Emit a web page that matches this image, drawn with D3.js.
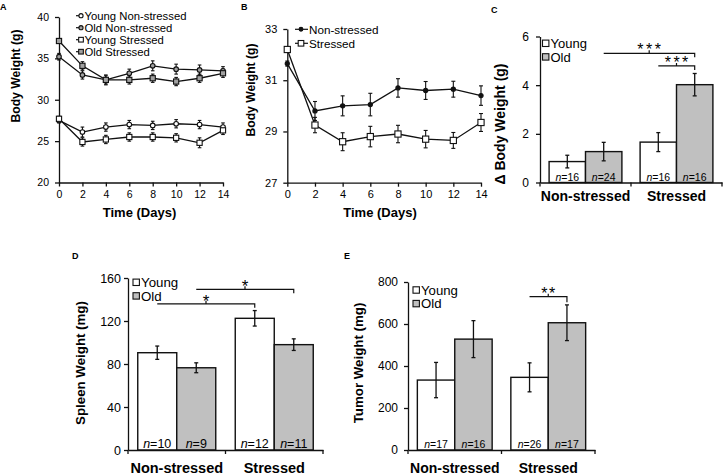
<!DOCTYPE html>
<html><head><meta charset="utf-8">
<script src="https://cdn.jsdelivr.net/npm/d3@7"></script>
<style>
body{margin:0;background:#fff}
svg{display:block;font-family:"Liberation Sans",Arial,sans-serif}
</style>
</head><body>
<svg id="c" width="724" height="475"></svg>
<script>
// ---------- DATA ----------
const days = [0, 2, 4, 6, 8, 10, 12, 14];
const dayTicks = [0, 2, 4, 6, 8, 10, 12, 14];

// Panel A
const aYoungNonStressed = [27.5, 26.1, 26.7, 27.0, 26.9, 27.1, 27.0, 26.7];
const aYoungNonStressedErr = [0.3, 0.6, 0.5, 0.5, 0.5, 0.5, 0.5, 0.5];
const aOldNonStressed = [35.2, 33.0, 32.4, 33.2, 34.1, 33.7, 33.6, 33.5];
const aOldNonStressedErr = [0.4, 0.5, 0.6, 0.5, 0.6, 0.6, 0.6, 0.5];
const aYoungStressed = [27.7, 24.9, 25.2, 25.5, 25.5, 25.4, 24.8, 26.3];
const aYoungStressedErr = [0.3, 0.5, 0.5, 0.5, 0.5, 0.5, 0.6, 0.5];
const aOldStressed = [37.1, 34.1, 32.4, 32.4, 32.6, 32.2, 32.6, 33.2];
const aOldStressedErr = [0.3, 0.5, 0.5, 0.5, 0.5, 0.5, 0.5, 0.5];
const aYTicks = [20, 25, 30, 35, 40];

// Panel B
const bNonStressed = [31.65, 29.8, 30.0, 30.05, 30.7, 30.6, 30.65, 30.4];
const bNonStressedErr = [0.1, 0.37, 0.39, 0.44, 0.36, 0.35, 0.31, 0.38];
const bStressed = [32.2, 29.25, 28.6, 28.8, 28.9, 28.7, 28.65, 29.35];
const bStressedErr = [0.1, 0.3, 0.35, 0.4, 0.34, 0.34, 0.31, 0.35];
const bYTicks = [27, 29, 31, 33];

// Bar panels
const groups = ["Non-stressed", "Stressed"];
const ages = ["Young", "Old"];

const cYoung = [0.86, 1.66], cYoungErr = [0.26, 0.39], cYoungN = [16, 16];
const cOld = [1.27, 4.02], cOldErr = [0.38, 0.46], cOldN = [24, 16];
const cYTicks = [0, 2, 4, 6];

const dYoung = [90.5, 122.5], dYoungErr = [6.2, 7.2], dYoungN = [10, 12];
const dOld = [76.5, 98.0], dOldErr = [4.6, 5.4], dOldN = [9, 11];
const dYTicks = [0, 40, 80, 120, 160];

const eYoung = [333, 346], eYoungErr = [84, 69], eYoungN = [17, 26];
const eOld = [528, 606], eOldErr = [88, 85], eOldN = [16, 17];
const eYTicks = [0, 200, 400, 600, 800];

// significance brackets: [fromGroup, fromAge, toGroup, toAge, level, stars]
const cSig = [["Non-stressed","Old","Stressed","Old",5.31,"***"],["Stressed","Young","Stressed","Old",4.79,"***"]];
const dSig = [["Non-stressed","Young","Stressed","Young",136,"*"],["Non-stressed","Old","Stressed","Old",149.5,"*"]];
const eSig = [["Stressed","Young","Stressed","Old",730,"**"]];

// ---------- DRAWING ----------
const svg = d3.select("#c");
const FONT = '"Liberation Sans",Arial,sans-serif';
const INK = "#111";
const fmt = d3.format("d");

function styleAxis(g, fs, bold) {
  g.attr("font-family", FONT).attr("font-size", fs);
  g.select(".domain").attr("stroke", INK).attr("stroke-width", 1.3);
  g.selectAll(".tick line").attr("stroke", INK).attr("stroke-width", 1.3);
  g.selectAll(".tick text").attr("fill", "#000").attr("font-weight", bold ? "bold" : "normal");
}

function panelLabel(t, x, y) {
  svg.append("text").attr("x", x).attr("y", y).attr("font-size", 9).attr("font-weight", "bold").text(t);
}

function marker(g, shape, fill, cx, cy, size) {
  if (shape === "circle") {
    g.append("circle").attr("cx", cx).attr("cy", cy).attr("r", size / 2)
      .attr("fill", fill).attr("stroke", INK).attr("stroke-width", 1.1);
  } else {
    g.append("rect").attr("x", cx - size / 2).attr("y", cy - size / 2).attr("width", size).attr("height", size)
      .attr("fill", fill).attr("stroke", INK).attr("stroke-width", 1.1);
  }
}

function linePanel(cfg) {
  const x = d3.scaleLinear().domain([0, 14]).range(cfg.xr);
  const y = d3.scaleLinear().domain(cfg.yd).range(cfg.yr);
  const g = svg.append("g");
  const ya = g.append("g").attr("transform", `translate(${cfg.xr[0]},0)`)
    .call(d3.axisLeft(y).tickValues(cfg.yticks).tickFormat(fmt).tickSize(4).tickSizeOuter(0).tickPadding(cfg.ypad));
  styleAxis(ya, cfg.tfs);
  const xa = g.append("g").attr("transform", `translate(0,${cfg.yr[0]})`)
    .call(d3.axisBottom(x).tickValues(dayTicks).tickFormat(fmt).tickSize(4).tickSizeOuter(0).tickPadding(4));
  styleAxis(xa, cfg.tfs);
  const line = d3.line().x((d, i) => x(days[i])).y(d => y(d));
  cfg.series.forEach(s => {
    g.append("path").datum(s.values).attr("d", line).attr("fill", "none").attr("stroke", INK).attr("stroke-width", 1.3);
  });
  cfg.series.forEach(s => {
    s.values.forEach((v, i) => {
      const cx = x(days[i]), e = s.errs[i];
      g.append("line").attr("x1", cx).attr("x2", cx).attr("y1", y(v - e)).attr("y2", y(v + e)).attr("stroke", INK).attr("stroke-width", 1.1);
      [v - e, v + e].forEach(w => g.append("line").attr("x1", cx - cfg.cap).attr("x2", cx + cfg.cap)
        .attr("y1", y(w)).attr("y2", y(w)).attr("stroke", INK).attr("stroke-width", 1.1));
    });
  });
  cfg.series.forEach(s => {
    s.values.forEach((v, i) => marker(g, s.shape, s.fill, x(days[i]), y(v), s.size));
  });
  // legend
  cfg.series.forEach((s, i) => {
    const ly = cfg.leg.y + i * cfg.leg.dy;
    g.append("line").attr("x1", cfg.leg.x0).attr("x2", cfg.leg.x1).attr("y1", ly).attr("y2", ly).attr("stroke", INK).attr("stroke-width", 1.2);
    marker(g, s.shape, s.fill, cfg.leg.mx, ly, s.size * 0.9);
    g.append("text").attr("x", cfg.leg.tx).attr("y", ly + cfg.leg.fs * 0.36).attr("font-size", cfg.leg.fs).text(s.name);
  });
  g.append("text").attr("x", cfg.xt[0]).attr("y", cfg.xt[1]).attr("text-anchor", "middle")
    .attr("font-size", 13).attr("font-weight", "bold").text("Time (Days)");
  g.append("text").attr("transform", `translate(${cfg.yt[0]},${cfg.yt[1]}) rotate(-90)`).attr("text-anchor", "middle")
    .attr("font-size", 12.2).attr("font-weight", "bold").text("Body Weight (g)");
}

function barPanel(cfg) {
  const x = d3.scaleBand().domain(groups).range(cfg.xr).paddingInner(0).paddingOuter(0);
  const xs = d3.scaleBand().domain(ages).range([0, x.bandwidth()]).paddingInner(0).paddingOuter(0.25);
  const y = d3.scaleLinear().domain([cfg.yticks[0], cfg.yticks[cfg.yticks.length - 1]]).range(cfg.yr);
  const g = svg.append("g");
  const data = [];
  groups.forEach((gr, gi) => {
    data.push({g: gr, a: "Young", v: cfg.young[gi], e: cfg.youngErr[gi], n: cfg.youngN[gi]});
    data.push({g: gr, a: "Old", v: cfg.old[gi], e: cfg.oldErr[gi], n: cfg.oldN[gi]});
  });
  const cx = (gr, a) => x(gr) + xs(a) + xs.bandwidth() / 2;
  data.forEach(d => {
    g.append("rect").attr("x", x(d.g) + xs(d.a)).attr("y", y(d.v)).attr("width", xs.bandwidth())
      .attr("height", y(0) - y(d.v)).attr("fill", d.a === "Old" ? "#c0c0c0" : "#fff")
      .attr("stroke", INK).attr("stroke-width", 1.4);
  });
  data.forEach(d => {
    const c = cx(d.g, d.a);
    g.append("line").attr("x1", c).attr("x2", c).attr("y1", y(d.v - d.e)).attr("y2", y(d.v + d.e)).attr("stroke", INK).attr("stroke-width", 1.3);
    [d.v - d.e, d.v + d.e].forEach(w => g.append("line").attr("x1", c - 2).attr("x2", c + 2)
      .attr("y1", y(w)).attr("y2", y(w)).attr("stroke", INK).attr("stroke-width", 1.3));
    const t = g.append("text").attr("x", c).attr("y", y(0) - 2).attr("text-anchor", "middle").attr("font-size", cfg.nfs);
    t.append("tspan").attr("font-style", "italic").text("n");
    t.append("tspan").text("=" + d.n);
  });
  const ya = g.append("g").attr("transform", `translate(${cfg.xr[0]},0)`)
    .call(d3.axisLeft(y).tickValues(cfg.yticks).tickFormat(fmt).tickSize(4).tickSizeOuter(0).tickPadding(cfg.ypad));
  styleAxis(ya, cfg.tfs);
  const xa = g.append("g").attr("transform", `translate(0,${cfg.yr[0]})`)
    .call(d3.axisBottom(x).tickSize(0).tickSizeOuter(0).tickPadding(cfg.xpad));
  styleAxis(xa, cfg.cfs, true);
  [cfg.xr[0], x("Stressed"), cfg.xr[1]].forEach(px => g.append("line").attr("x1", px).attr("x2", px)
    .attr("y1", cfg.yr[0]).attr("y2", cfg.yr[0] + 4).attr("stroke", INK).attr("stroke-width", 1.3));
  // legend
  ages.forEach((a, i) => {
    const ly = cfg.leg.y + i * cfg.leg.dy;
    g.append("rect").attr("x", cfg.leg.x).attr("y", ly - 3.2).attr("width", 6.4).attr("height", 6.4)
      .attr("fill", a === "Old" ? "#c0c0c0" : "#fff").attr("stroke", INK).attr("stroke-width", 1.1);
    g.append("text").attr("x", cfg.leg.x + 8).attr("y", ly + cfg.leg.fs * 0.36).attr("font-size", cfg.leg.fs).text(a);
  });
  // significance
  cfg.sig.forEach(s => {
    const x1 = cx(s[0], s[1]), x2 = cx(s[2], s[3]), ly = y(s[4]), m = (x1 + x2) / 2;
    g.append("path").attr("d", `M${x1},${ly}H${x2}V${ly + cfg.drop}M${m},${ly}V${ly - 3}`)
      .attr("fill", "none").attr("stroke", INK).attr("stroke-width", 1.2);
    g.append("text").attr("x", m + cfg.sls / 2).attr("y", ly - 7 + cfg.sfs * 0.575).attr("text-anchor", "middle")
      .attr("font-size", cfg.sfs).attr("letter-spacing", cfg.sls).text(s[5]);
  });
  g.append("text").attr("transform", `translate(${cfg.yt[0]},${cfg.yt[1]}) rotate(-90)`).attr("text-anchor", "middle")
    .attr("font-size", cfg.yfs).attr("font-weight", "bold").text(cfg.ytitle);
}

panelLabel("A", 0, 10);
panelLabel("B", 241, 10);
panelLabel("C", 491, 13);
panelLabel("D", 72, 259);
panelLabel("E", 344, 259);

linePanel({
  xr: [59, 223], yd: [20, 40], yr: [182.5, 17], yticks: aYTicks, ypad: 6, tfs: 10.5, cap: 1.8,
  series: [
    {name: "Young Non-stressed", values: aYoungNonStressed, errs: aYoungNonStressedErr, shape: "circle", fill: "#fff", size: 4.6},
    {name: "Old Non-stressed", values: aOldNonStressed, errs: aOldNonStressedErr, shape: "circle", fill: "#a0a0a0", size: 4.6},
    {name: "Young Stressed", values: aYoungStressed, errs: aYoungStressedErr, shape: "square", fill: "#fff", size: 5.2},
    {name: "Old Stressed", values: aOldStressed, errs: aOldStressedErr, shape: "square", fill: "#a0a0a0", size: 5.2}
  ],
  leg: {y: 15.7, dy: 12, x0: 76, x1: 82, mx: 81, tx: 84.5, fs: 11.3},
  xt: [139.5, 217], yt: [20, 76]
});

linePanel({
  xr: [287.3, 481], yd: [27, 33], yr: [182.7, 29], yticks: bYTicks, ypad: 6, tfs: 11, cap: 2,
  series: [
    {name: "Non-stressed", values: bNonStressed, errs: bNonStressedErr, shape: "circle", fill: INK, size: 4.2},
    {name: "Stressed", values: bStressed, errs: bStressedErr, shape: "square", fill: "#fff", size: 6.2}
  ],
  leg: {y: 29.3, dy: 14, x0: 295, x1: 308, mx: 301, tx: 309, fs: 11.7},
  xt: [380, 217], yt: [255, 90]
});

barPanel({
  xr: [540, 722], yr: [182.5, 36.5], yticks: cYTicks, ypad: 7, tfs: 12, cfs: 14, xpad: 9,
  young: cYoung, youngErr: cYoungErr, youngN: cYoungN, old: cOld, oldErr: cOldErr, oldN: cOldN,
  nfs: 10.5, leg: {x: 542.5, y: 43.3, dy: 13.6, fs: 13}, sig: cSig, drop: 4, sfs: 16, sls: 2.5,
  ytitle: "\u0394 Body Weight (g)", yt: [505, 124], yfs: 14
});

barPanel({
  xr: [128, 323], yr: [450, 278], yticks: dYTicks, ypad: 3, tfs: 12.5, cfs: 14.5, xpad: 13,
  young: dYoung, youngErr: dYoungErr, youngN: dYoungN, old: dOld, oldErr: dOldErr, oldN: dOldN,
  nfs: 12.5, leg: {x: 133, y: 282.3, dy: 13.6, fs: 13.3}, sig: dSig, drop: 4, sfs: 17, sls: 0,
  ytitle: "Spleen Weight (mg)", yt: [85, 363], yfs: 13.3
});

barPanel({
  xr: [408, 595], yr: [450, 282], yticks: eYTicks, ypad: 6, tfs: 12, cfs: 14, xpad: 13,
  young: eYoung, youngErr: eYoungErr, youngN: eYoungN, old: eOld, oldErr: eOldErr, oldN: eOldN,
  nfs: 10.5, leg: {x: 413, y: 290, dy: 13.6, fs: 13.2}, sig: eSig, drop: 5.5, sfs: 16, sls: 1.5,
  ytitle: "Tumor Weight (mg)", yt: [363, 363], yfs: 13.3
});
</script>
</body></html>
